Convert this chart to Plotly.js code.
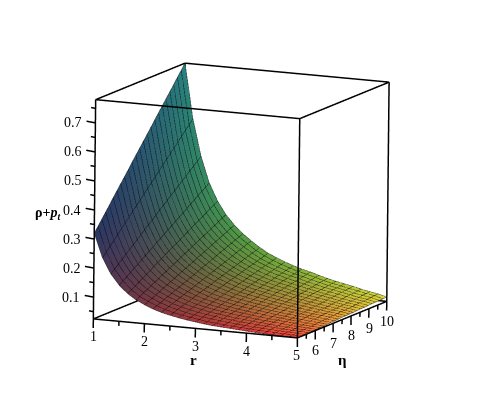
<!DOCTYPE html>
<html><head><meta charset="utf-8">
<script src="https://cdn.plot.ly/plotly-3.0.1.min.js"></script>
<style>html,body{margin:0;padding:0;background:#fff;overflow:hidden}#p{width:482px;height:400px}</style>
</head><body><div id="p"></div>
<script>
const rVals=[1,1.167,1.333,1.5,1.667,1.833,2,2.167,2.333,2.5,2.667,2.833,3,3.167,3.333,3.5,3.667,3.833,4,4.167,4.333,4.5,4.667,4.833,5];
const etaVals=[5,5.208,5.417,5.625,5.833,6.042,6.25,6.458,6.667,6.875,7.083,7.292,7.5,7.708,7.917,8.125,8.333,8.542,8.75,8.958,9.167,9.375,9.583,9.792,10];
// rho + p_t: one list per r value, running along eta
const zCols=[
[.320,.339,.358,.377,.396,.416,.435,.454,.473,.492,.512,.531,.550,.569,.588,.607,.627,.646,.665,.684,.703,.722,.742,.761,.780],
[.238,.253,.268,.282,.297,.312,.327,.341,.356,.371,.385,.400,.415,.429,.444,.459,.474,.488,.503,.518,.532,.547,.562,.576,.591],
[.185,.197,.209,.220,.232,.244,.255,.267,.279,.290,.302,.313,.325,.337,.348,.360,.372,.383,.395,.407,.418,.430,.441,.453,.465],
[.149,.159,.168,.177,.187,.196,.206,.215,.225,.234,.244,.253,.263,.272,.281,.291,.300,.310,.319,.329,.338,.348,.357,.366,.376],
[.123,.131,.139,.147,.155,.163,.171,.180,.188,.196,.204,.212,.220,.228,.236,.244,.252,.260,.268,.276,.284,.292,.300,.308,.316],
[.104,.111,.118,.125,.132,.139,.146,.153,.160,.167,.174,.181,.188,.195,.202,.209,.216,.223,.230,.237,.244,.251,.258,.265,.272],
[.090,.096,.102,.108,.114,.121,.127,.133,.139,.146,.152,.158,.164,.170,.177,.183,.189,.195,.202,.208,.214,.220,.226,.233,.239],
[.078,.084,.089,.095,.100,.106,.112,.117,.123,.128,.134,.139,.145,.151,.156,.162,.167,.173,.179,.184,.190,.195,.201,.206,.212],
[.069,.074,.079,.084,.089,.094,.099,.104,.109,.114,.119,.124,.129,.134,.139,.144,.149,.154,.159,.164,.170,.175,.180,.185,.190],
[.062,.066,.071,.075,.080,.084,.089,.093,.098,.102,.107,.111,.116,.120,.125,.129,.134,.138,.143,.147,.152,.156,.161,.165,.170],
[.056,.060,.064,.068,.072,.076,.080,.084,.088,.092,.097,.101,.105,.109,.113,.117,.121,.125,.129,.133,.137,.141,.145,.149,.153],
[.051,.055,.058,.062,.066,.069,.073,.077,.080,.084,.088,.092,.095,.099,.103,.106,.110,.114,.117,.121,.125,.129,.132,.136,.140],
[.047,.050,.054,.057,.060,.064,.067,.070,.074,.077,.081,.084,.087,.091,.094,.098,.101,.104,.108,.111,.114,.118,.121,.125,.128],
[.043,.046,.050,.053,.056,.059,.062,.065,.068,.071,.074,.078,.081,.084,.087,.090,.093,.096,.099,.102,.106,.109,.112,.115,.118],
[.040,.043,.046,.049,.052,.055,.058,.060,.063,.066,.069,.072,.075,.078,.081,.083,.086,.089,.092,.095,.098,.101,.103,.106,.109],
[.038,.040,.043,.046,.048,.051,.054,.056,.059,.062,.064,.067,.070,.072,.075,.078,.080,.083,.086,.088,.091,.094,.096,.099,.102],
[.036,.038,.040,.043,.045,.048,.050,.052,.055,.057,.060,.062,.064,.067,.069,.072,.074,.076,.079,.081,.084,.086,.088,.091,.093],
[.034,.036,.038,.040,.042,.044,.047,.049,.051,.053,.055,.057,.060,.062,.064,.066,.068,.070,.072,.075,.077,.079,.081,.083,.085],
[.032,.034,.036,.038,.040,.042,.043,.045,.047,.049,.051,.053,.055,.057,.059,.061,.063,.065,.067,.069,.070,.072,.074,.076,.078],
[.030,.032,.034,.036,.037,.039,.041,.043,.044,.046,.048,.049,.051,.053,.055,.056,.058,.060,.062,.063,.065,.067,.068,.070,.072],
[.029,.031,.032,.034,.035,.037,.038,.040,.041,.043,.044,.046,.047,.049,.050,.052,.053,.055,.057,.058,.060,.061,.063,.064,.066],
[.028,.029,.030,.032,.033,.034,.036,.037,.038,.040,.041,.042,.043,.045,.046,.047,.049,.050,.051,.052,.054,.055,.056,.058,.059],
[.027,.028,.029,.030,.031,.032,.033,.034,.035,.037,.038,.039,.040,.041,.042,.043,.044,.045,.046,.047,.048,.049,.051,.052,.053],
[.026,.027,.028,.029,.029,.030,.031,.032,.033,.034,.035,.036,.037,.038,.039,.039,.040,.041,.042,.043,.044,.045,.046,.047,.048],
[.025,.026,.026,.027,.028,.028,.029,.029,.030,.031,.031,.032,.033,.033,.034,.034,.035,.036,.036,.037,.038,.038,.039,.039,.040]
];
const rTicks=[1,2,3,4,5],etaTicks=[5,6,7,8,9,10],zTicks=[.1,.2,.3,.4,.5,.6,.7];
const rMinor=[1.5,2.5,3.5,4.5],etaMinor=[5.5,6.5,7.5,8.5,9.5],zMinor=[.05,.15,.25,.35,.45,.55,.65,.75];
const zMin=.025,zMax=.78,r0=1,r1=5,e0=5,e1=10;
const tickZ=.0313,tickR=.174;
const view={x:.397,y:-.898,z:.186};
const unit={x:.28486,y:.2245,z:1.508};
const delta=.015;
const off={x:view.x*delta/unit.x,y:view.y*delta/unit.y,z:view.z*delta/unit.z};
const pad={x:.03,y:.07,z:.005};
const X=[],Y=[],Z=[],C=[],I=[],J=[],K=[];
const n=rVals.length,m=etaVals.length;
etaVals.forEach((e,j)=>rVals.forEach((r,i)=>{const z=zCols[i][j];X.push(r);Y.push(e);Z.push(z);
 const tr=(r-r0)/(r1-r0),te=(e-e0)/(e1-e0);
 const R=40+(205-30*te)*Math.pow(tr,.65+.5*te),G=55+Math.pow(te,1.3-.7*tr)*(75+85*tr),B=58+Math.pow(1-tr,5)*(40+30*te);
 C.push(`rgb(${R|0},${G|0},${B|0})`);
}));
for(let j=0;j<m-1;j++)for(let i=0;i<n-1;i++){const a=j*n+i;I.push(a,a);J.push(a+1,a+n+1);K.push(a+n+1,a+n);}
const lx=[],ly=[],lz=[];
const gp=(i,j)=>{lx.push(rVals[i]+off.x);ly.push(etaVals[j]+off.y);lz.push(zCols[i][j]+off.z);};
const gb=()=>{lx.push(null);ly.push(null);lz.push(null);};
for(let j=0;j<m;j++){for(let i=0;i<n;i++)gp(i,j);gb();}
for(let i=0;i<n;i++){for(let j=0;j<m;j++)gp(i,j);gb();}
const bx=[],by=[],bz=[];
const seg=(a,b)=>{bx.push(a[0],b[0],null);by.push(a[1],b[1],null);bz.push(a[2],b[2],null);};
[[r0,e0],[r1,e0],[r1,e1],[r0,e1]].forEach(c=>seg([c[0],c[1],zMin],[c[0],c[1],zMax]));
[zMin,zMax].forEach(z=>{seg([r0,e0,z],[r1,e0,z]);seg([r1,e0,z],[r1,e1,z]);seg([r1,e1,z],[r0,e1,z]);seg([r0,e1,z],[r0,e0,z]);});
rTicks.forEach(v=>seg([v,e0,zMin],[v,e0,zMin-tickZ]));
rMinor.forEach(v=>seg([v,e0,zMin],[v,e0,zMin-tickZ/2]));
etaTicks.forEach(v=>seg([r1,v,zMin],[r1,v,zMin-tickZ]));
etaMinor.forEach(v=>seg([r1,v,zMin],[r1,v,zMin-tickZ/2]));
zTicks.forEach(v=>seg([r0,e0,v],[r0-tickR,e0,v+.003]));
zMinor.forEach(v=>seg([r0,e0,v],[r0-tickR/2,e0,v+.0015]));
const ax=(range)=>({range:range,title:{text:''},showgrid:false,zeroline:false,showbackground:false,showspikes:false,showline:false,ticks:'',showticklabels:false});
const data=[
{type:'mesh3d',x:X,y:Y,z:Z,i:I,j:J,k:K,vertexcolor:C,lighting:{ambient:1,diffuse:0,specular:0,fresnel:0,roughness:1},hoverinfo:'skip'},
{type:'scatter3d',mode:'lines',x:lx,y:ly,z:lz,line:{color:'rgba(0,0,0,0.5)',width:1.5},hoverinfo:'skip',showlegend:false},
{type:'scatter3d',mode:'lines',x:bx,y:by,z:bz,line:{color:'#000',width:3},hoverinfo:'skip',showlegend:false}
];
const tf={family:'Liberation Serif',size:14,color:'#000'};
const sa=[];
rTicks.forEach(v=>sa.push({x:v,y:e0,z:zMin,text:String(v),showarrow:false,font:tf,yshift:-18,xanchor:'center',yanchor:'middle'}));
etaTicks.slice(1).forEach(v=>sa.push({x:r1,y:v,z:zMin,text:String(v),showarrow:false,font:tf,yshift:-20,xshift:1,xanchor:'center',yanchor:'middle'}));
zTicks.forEach(v=>sa.push({x:r0,y:e0,z:v,text:v.toFixed(1),showarrow:false,font:tf,xshift:-11,xanchor:'right',yanchor:'middle'}));
const rx=[r0-tickR,r1+pad.x],ry=[e0-pad.y,e1+pad.y],rz=[zMin-tickZ,zMax+pad.z];
const tt={family:'Liberation Serif',size:15,color:'#000'};
const layout={width:482,height:400,margin:{l:0,r:0,t:0,b:0},paper_bgcolor:'#fff',showlegend:false,
scene:{domain:{x:[.037,.947],y:[0,.98]},aspectmode:'manual',aspectratio:{x:unit.x*(rx[1]-rx[0]),y:unit.y*(ry[1]-ry[0]),z:unit.z*(rz[1]-rz[0])},
 camera:{projection:{type:'orthographic'},center:{x:0,y:0,z:0},up:{x:-.085,y:.166,z:.982},eye:{x:view.x*2,y:view.y*2,z:view.z*2}},
 xaxis:ax(rx),yaxis:ax(ry),zaxis:ax(rz),annotations:sa},
annotations:[
{xref:'paper',yref:'paper',x:193/482,y:1-360/400,xanchor:'center',yanchor:'middle',text:'<b>r</b>',showarrow:false,font:tt},
{xref:'paper',yref:'paper',x:342/482,y:1-360/400,xanchor:'center',yanchor:'middle',text:'<b>η</b>',showarrow:false,font:tt},
{xref:'paper',yref:'paper',x:47.5/482,y:1-213/400,xanchor:'center',yanchor:'middle',text:'<b>ρ+<i>p<sub>t</sub></i></b>',showarrow:false,font:{family:'Liberation Serif',size:14,color:'#000'}}
]};
Plotly.newPlot('p',data,layout,{displayModeBar:false});
</script></body></html>
